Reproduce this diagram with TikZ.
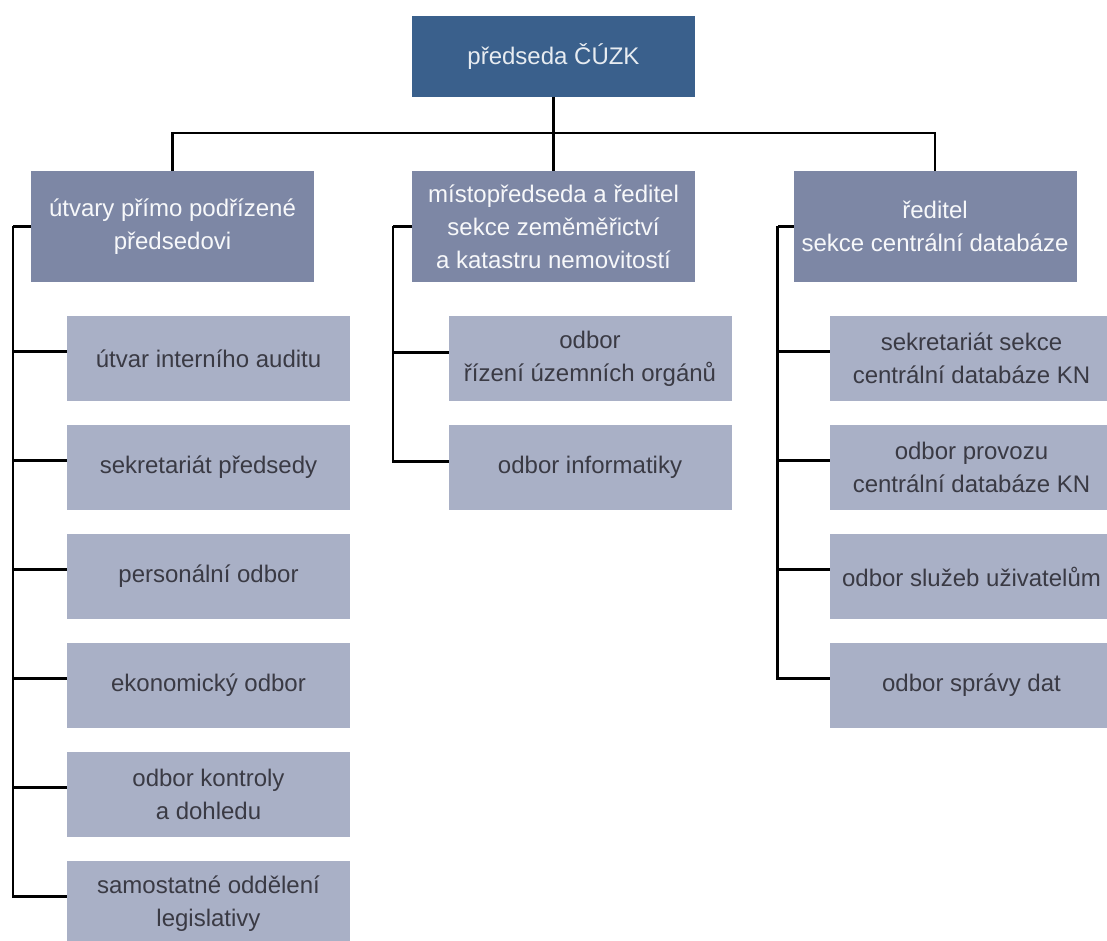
\documentclass[tikz,border=0pt]{standalone}
\usepackage{fontspec}
\setmainfont{Liberation Sans}
\usetikzlibrary{positioning}

\definecolor{headblue}{HTML}{3A608C}
\definecolor{sectionblue}{HTML}{7D87A5}
\definecolor{unitgray}{HTML}{A9B0C6}
\definecolor{unittext}{HTML}{3A3A44}

\begin{document}
\begin{tikzpicture}[x=1pt, y=-1pt, node distance=24pt, line width=2.6pt]
      \tikzstyle{box}=[inner sep=0pt, outer sep=0pt, align=center,
        font=\fontsize{24}{33}\selectfont]
      \tikzstyle{head}=[box, fill=headblue, text=white!88!headblue,
        minimum width=283pt, minimum height=81pt]
      \tikzstyle{section}=[box, fill=sectionblue, text=white!94!sectionblue,
        minimum width=283pt, minimum height=111pt]
      \tikzstyle{unit}=[box, fill=unitgray, text=unittext,
        minimum width=283pt, minimum height=85pt]

      \useasboundingbox (0,0) rectangle (1107,941);

      % Chairman and the three sections under him.
      \node[head]
        (head) at (553.5,56.5)    % head is top middle.
        {předseda ČÚZK};
      \node[section]
        (sec_1) at (172.5,226.5)  % sec_1 is left.
        {útvary přímo podřízené\\předsedovi};
      \node[section]
        (sec_2) at (553.5,226.5)  % sec_2 is middle.
        {místopředseda a ředitel\\sekce zeměměřictví\\a katastru nemovitostí};
      \node[section]
        (sec_3) at (935,226.5)    % sec_3 is right.
        {ředitel\\sekce centrální databáze};

      % Units of the left section.
      \node[unit] (u_11) at (208.5,358.5) {útvar interního auditu};
      \node[unit, below=of u_11] (u_12) {sekretariát předsedy};
      \node[unit, below=of u_12] (u_13) {personální odbor};
      \node[unit, below=of u_13] (u_14) {ekonomický odbor};
      \node[unit, below=of u_14] (u_15) {odbor kontroly\\a dohledu};
      \node[unit, below=of u_15] (u_16) {samostatné oddělení\\legislativy};

      % Units of the middle section.
      \node[unit] (u_21) at (590,358.5) {odbor\\řízení územních orgánů};
      \node[unit, below=of u_21] (u_22) {odbor informatiky};

      % Units of the right section.
      \node[unit] (u_31) at (971.5,358.5) {sekretariát sekce\\centrální databáze KN};
      \node[unit, below=of u_31] (u_32) {odbor provozu\\centrální databáze KN};
      \node[unit, below=of u_32] (u_33) {odbor služeb uživatelům};
      \node[unit, below=of u_33] (u_34) {odbor správy dat};

      % Draw the lines from the head to the sections.
      \draw (head.south) -- ++(0,36) coordinate (hub);
      \draw (sec_1.north) |- (hub) -| (sec_3.north);
      \draw (hub) -- (sec_2.north);

      % Draw the spine of each section and its branches.
      \draw (sec_1.west) -- ++(-18,0) coordinate (spine_1);
      \foreach \n in {1,...,6}
        \draw (spine_1) |- ([yshift=7pt]u_1\n.west);
      \draw (sec_2.west) -- ++(-19,0) coordinate (spine_2);
      \foreach \n in {1,2}
        \draw (spine_2) |- ([yshift=6pt]u_2\n.west);
      \draw (sec_3.west) -- ++(-16,0) coordinate (spine_3);
      \foreach \n in {1,...,4}
        \draw (spine_3) |- ([yshift=7pt]u_3\n.west);
    \end{tikzpicture}
\end{document}
